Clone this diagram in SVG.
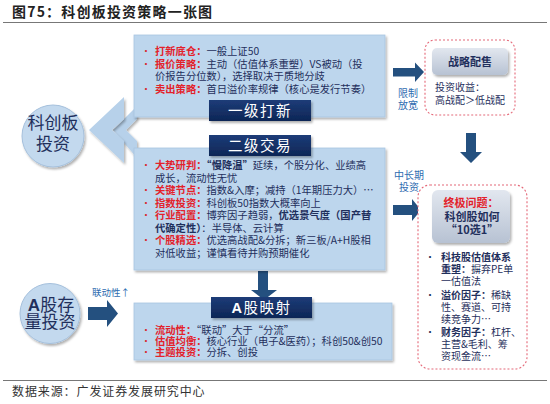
<svg xmlns="http://www.w3.org/2000/svg" width="550" height="404" viewBox="0 0 550 404">
<defs>
<filter id="sh" x="-10%" y="-10%" width="125%" height="130%"><feDropShadow dx="1.5" dy="2" stdDeviation="1.2" flood-color="#000" flood-opacity="0.3"/></filter>
<linearGradient id="gb" x1="0" y1="0" x2="0" y2="1"><stop offset="0" stop-color="#e2e7ef"/><stop offset="1" stop-color="#b7c2d3"/></linearGradient>
<linearGradient id="nv" x1="0" y1="0" x2="0" y2="1"><stop offset="0" stop-color="#1d3c78"/><stop offset="1" stop-color="#0d2656"/></linearGradient>
</defs>
<style>
text{font-family:"Noto Sans CJK SC","Liberation Sans",sans-serif}
.box{fill:#bdd6ed;stroke:#a9c5e1;stroke-width:0.8;filter:url(#sh)}
.lbl{fill:url(#nv);filter:url(#sh)}
.lt{font-size:14.5px;fill:#fff;text-anchor:middle;letter-spacing:1.5px}
.t{font-size:10.3px;fill:#1f2f5c}
.r{fill:#e3222b;font-weight:bold}
.b{font-weight:bold}
.bu{fill:#d8262e;font-size:10px}
.ar{fill:#24507f}
.chev{fill:#b7d1ea;filter:url(#sh)}
.circ{fill:#c3d9ee;stroke:#a5c0dc;stroke-width:1;filter:url(#sh)}
.ct{font-size:17px;fill:#1f2f5c;text-anchor:middle}
.bl{font-size:10px;fill:#2e6cb0;text-anchor:middle}
.dash{fill:#fff;stroke:#e46878;stroke-width:1.1;stroke-dasharray:2 2}
.gbox{fill:url(#gb);filter:url(#sh)}
.rt{font-size:10px;fill:#1f2f5c}
.line{stroke:#777;stroke-width:1}
</style>

<text x="12" y="17" font-size="14" font-weight="bold" fill="#222" letter-spacing="1.2">图75：科创板投资策略一张图</text>
<line class="line" x1="3" y1="22.5" x2="547" y2="22.5"/>
<line class="line" x1="3" y1="380.5" x2="547" y2="380.5"/>
<text x="12" y="396" font-size="12" fill="#333" letter-spacing="0.9">数据来源：广发证券发展研究中心</text>

<g id="connectors">
<polygon class="chev" points="113,130 137,106 137,119 126,130 137,141 137,158"/>
<polygon class="chev" points="89,130 124,97 124,119 112,130 124,141 124,163"/>
<polygon class="ar" points="393,68 415,68 415,62.5 424,72 415,82 415,76.5 393,76.5"/>
<polygon class="ar" points="393,205 412,205 412,199 421,210 412,221 412,215 393,215"/>
<polygon class="ar" points="466,133 476,133 476,152 482,152 471,163 460,152 466,152"/>
<polygon class="ar" points="258,271 268,271 268,290 277,290 264,300 251,290 258,290"/>
<polygon class="ar" points="88,307 107,307 107,300 118,313.5 107,327 107,320 88,320"/>
<text class="bl" x="408" y="96.5">限制</text>
<text class="bl" x="408" y="108.5">放宽</text>
<text class="bl" x="409" y="178.5">中长期</text>
<text class="bl" x="409" y="190.5">投资</text>
<text x="92" y="295.5" font-size="9.5" fill="#2e6cb0">联动性↑</text>
</g>

<g id="kcb">
<circle class="circ" cx="53" cy="136" r="31"/>
<text class="ct" x="53" y="129">科创板</text>
<text class="ct" x="53" y="149.5">投资</text>
</g>

<g id="agcl">
<circle class="circ" cx="50" cy="313.5" r="30"/>
<text class="ct" x="51" y="310.5" font-size="15.5"><tspan font-weight="bold" font-family="Liberation Sans">A</tspan>股存</text>
<text class="ct" x="50" y="328" font-size="15.5">量投资</text>
</g>

<g id="yjdx">
<rect class="box" x="134" y="35" width="251" height="82"/>
<text class="bu" x="141" y="55">•</text>
<text class="t" x="155" y="55"><tspan class="r">打新底仓：</tspan>一般上证50</text>
<text class="bu" x="141" y="67.5">•</text>
<text class="t" x="155" y="67.5"><tspan class="r">报价策略：</tspan>主动（估值体系重塑）VS被动（投</text>
<text class="t" x="155" y="80">价报告分位数），选择取决于质地分歧</text>
<text class="bu" x="141" y="92.5">•</text>
<text class="t" x="155" y="92.5"><tspan class="r">卖出策略：</tspan>首日溢价率规律（核心是发行节奏）</text>
<rect class="lbl" x="209" y="100" width="102" height="21"/>
<text class="lt" x="260" y="116">一级打新</text>
</g>

<g id="ejjy">
<rect class="box" x="134" y="148" width="251" height="122"/>
<rect class="lbl" x="209" y="135" width="102" height="21"/>
<text class="lt" x="260" y="151">二级交易</text>
<text class="bu" x="141" y="169">•</text>
<text class="t" x="155" y="169"><tspan class="r">大势研判：</tspan><tspan class="b">“慢降温”</tspan>延续，个股分化、业绩高</text>
<text class="t" x="155" y="181.5">成长，流动性无忧</text>
<text class="bu" x="141" y="194">•</text>
<text class="t" x="155" y="194"><tspan class="r">关键节点：</tspan>指数&amp;入摩；减持（1年期压力大）…</text>
<text class="bu" x="141" y="206.5">•</text>
<text class="t" x="155" y="206.5"><tspan class="r">指数投资：</tspan>科创板50指数大概率向上</text>
<text class="bu" x="141" y="219">•</text>
<text class="t" x="155" y="219"><tspan class="r">行业配置：</tspan>博弈因子趋弱，<tspan class="b">优选景气度（国产替</tspan></text>
<text class="t" x="155" y="231.5"><tspan class="b">代确定性）</tspan>：半导体、云计算</text>
<text class="bu" x="141" y="244">•</text>
<text class="t" x="155" y="244"><tspan class="r">个股精选：</tspan>优选高战配&amp;分拆；新三板/A+H股相</text>
<text class="t" x="155" y="256.5">对低收益；谨慎看待并购预期催化</text>
</g>

<g id="agys">
<rect class="box" x="134" y="303" width="258" height="57"/>
<rect class="lbl" x="211" y="297" width="101" height="21"/>
<text class="lt" x="261.5" y="313"><tspan font-family="Liberation Sans" font-weight="bold">A</tspan>股映射</text>
<text class="bu" x="141" y="334">•</text>
<text class="t" x="155" y="334"><tspan class="r">流动性：</tspan>“联动”大于“分流”</text>
<text class="bu" x="141" y="345">•</text>
<text class="t" x="155" y="345"><tspan class="r">估值均衡：</tspan>核心行业（电子&amp;医药）；科创50&amp;创50</text>
<text class="bu" x="141" y="356">•</text>
<text class="t" x="155" y="356"><tspan class="r">主题投资：</tspan>分拆、创投</text>
</g>

<g id="zlps">
<rect class="dash" x="425" y="40" width="90" height="75" rx="10"/>
<rect class="gbox" x="432" y="48" width="76" height="27" rx="5"/>
<text x="470" y="66" font-size="11" fill="#1f2f5c" text-anchor="middle" font-weight="bold">战略配售</text>
<text class="rt" x="435" y="91" fill="#34507c">投资收益：</text>
<text class="rt" x="435" y="104" fill="#34507c">高战配＞低战配</text>
</g>

<g id="zjwt">
<rect class="dash" x="418" y="185" width="109" height="184" rx="12"/>
<rect class="gbox" x="432" y="190" width="78" height="53" rx="6"/>
<text x="471" y="207" font-size="11" text-anchor="middle" class="r">终极问题：</text>
<text x="472" y="221" font-size="11" text-anchor="middle" fill="#1f2f5c" font-weight="bold">科创股如何</text>
<text x="472" y="234" font-size="11" text-anchor="middle" fill="#1f2f5c" font-weight="bold">“10选1”</text>
<text class="rt" x="425" y="260.5">•</text>
<text class="rt" x="441" y="260.5" font-weight="bold">科技股估值体系</text>
<text class="rt" x="441" y="272.5"><tspan font-weight="bold">重塑：</tspan>摒弃PE单</text>
<text class="rt" x="441" y="284.5">一估值法</text>
<text class="rt" x="425" y="298.5">•</text>
<text class="rt" x="441" y="298.5"><tspan font-weight="bold">溢价因子：</tspan>稀缺</text>
<text class="rt" x="441" y="310.5">性、赛道、可持</text>
<text class="rt" x="441" y="322.5">续竞争力…</text>
<text class="rt" x="425" y="335.5">•</text>
<text class="rt" x="441" y="335.5"><tspan font-weight="bold">财务因子：</tspan>杠杆、</text>
<text class="rt" x="441" y="347.5">主营&amp;毛利、筹</text>
<text class="rt" x="441" y="359.5">资现金流…</text>
</g>
</svg>
